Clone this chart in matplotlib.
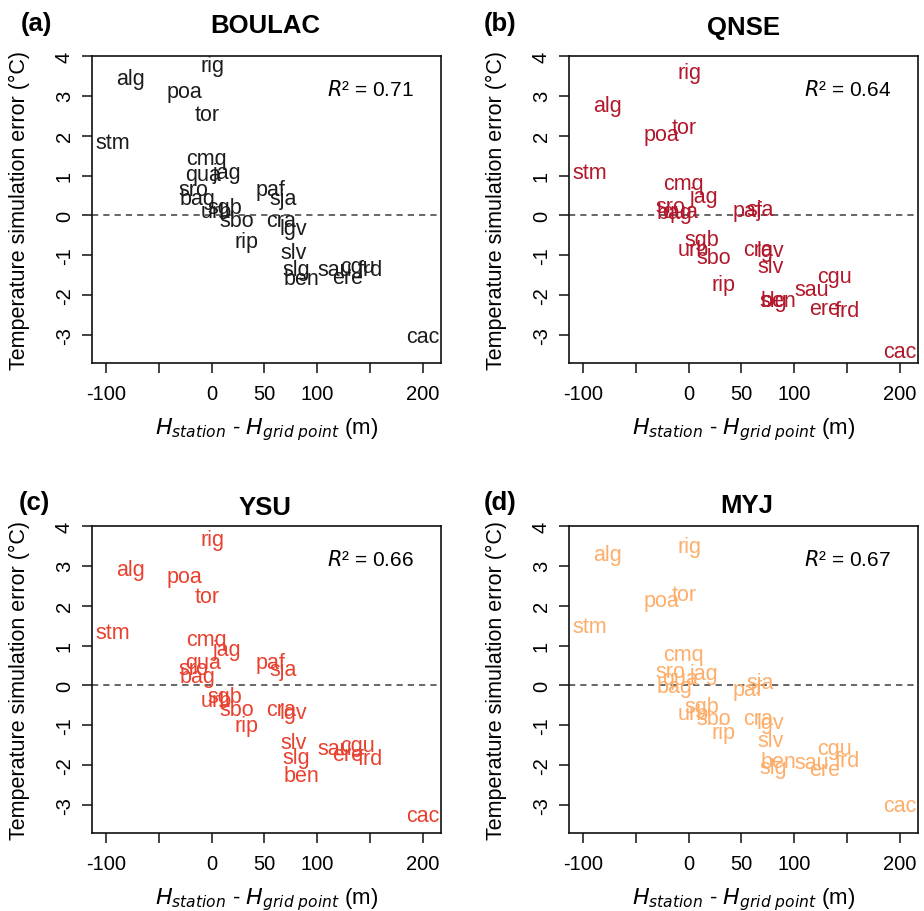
import matplotlib
matplotlib.use("Agg")
import matplotlib.pyplot as plt

plt.rcParams['font.family'] = ['Liberation Sans', 'DejaVu Sans']
plt.rcParams['mathtext.fontset'] = 'custom'
plt.rcParams['mathtext.rm'] = 'Liberation Sans'
plt.rcParams['mathtext.it'] = 'DejaVu Sans:italic'
plt.rcParams['mathtext.bf'] = 'Liberation Sans:bold'

# ---------------- data ----------------
stations = ["alg", "rig", "poa", "tor", "stm", "cmq", "qua", "jag", "sro", "bag",
            "sgb", "urb", "sbo", "paf", "sja", "cra", "lgv", "rip", "slv", "slg",
            "ben", "sau", "cgu", "ere", "frd", "cac"]
dh = [-77, 1, -26, -4, -93, -5, -8, 15, -17.5, -13.5,
      12.5, 4.5, 23.5, 55.5, 68, 66, 77, 33, 78, 80,
      85, 117, 138, 129, 150, 200]

err_boulac = [3.43, 3.75, 3.10, 2.54, 1.84, 1.42, 1.04, 1.07, 0.66, 0.43,
              0.21, 0.09, -0.13, 0.66, 0.43, -0.13, -0.33, -0.66, -0.93, -1.35,
              -1.59, -1.35, -1.27, -1.56, -1.35, -3.03]
err_qnse = [2.76, 3.59, 2.04, 2.21, 1.08, 0.79, 0.09, 0.47, 0.22, 0.07,
            -0.61, -0.85, -1.06, 0.12, 0.16, -0.85, -0.87, -1.73, -1.27, -2.14,
            -2.14, -1.85, -1.52, -2.34, -2.39, -3.40]
err_ysu = [2.91, 3.66, 2.74, 2.24, 1.34, 1.16, 0.58, 0.91, 0.43, 0.22,
           -0.28, -0.38, -0.59, 0.58, 0.41, -0.59, -0.68, -1.01, -1.42, -1.81,
           -2.26, -1.59, -1.51, -1.74, -1.84, -3.26]
err_myj = [3.28, 3.49, 2.12, 2.28, 1.49, 0.78, 0.18, 0.31, 0.34, -0.03,
           -0.52, -0.70, -0.84, -0.09, 0.07, -0.84, -0.93, -1.17, -1.38, -2.05,
           -1.90, -1.93, -1.59, -2.11, -1.88, -3.01]

schemes = ["BOULAC", "QNSE", "YSU", "MYJ"]
panel_tags = ["(a)", "(b)", "(c)", "(d)"]
r2_values = ["0.71", "0.64", "0.66", "0.67"]
colors = ["#1c1c1c", "#B2182B", "#E8412F", "#FDAE6B"]
errors = [err_boulac, err_qnse, err_ysu, err_myj]

xticks = [-100, -50, 0, 50, 100, 150, 200]
xticklabels = ["-100", "", "0", "50", "100", "", "200"]
yticks = [-3, -2, -1, 0, 1, 2, 3, 4]

# ---------------- layout (pixels) ----------------
W, H = 924, 912
fig = plt.figure(figsize=(W / 100, H / 100), dpi=100)

boxes = [(92, 57, 441, 364), (569, 57, 918, 364),
         (92, 527, 441, 834), (569, 527, 918, 834)]
tag_pos = [(21, 30.5), (484, 30.5), (19, 510), (484, 510)]
title_pos = [(265, 33), (744, 35.5), (265, 515), (747, 513)]

for i in range(4):
    l, t, r, b = boxes[i]
    ax = fig.add_axes([l / W, 1 - b / H, (r - l) / W, (b - t) / H])
    ax.set_xlim(-113, 217)
    ax.set_ylim(-3.7, 4.0)
    for s in ax.spines.values():
        s.set_linewidth(1.2)
        s.set_color("#111111")
    ax.axhline(0, color="#666666", lw=1.4, ls=(0, (3.2, 2.6)), zorder=1)
    for name, xv, yv in zip(stations, dh, errors[i]):
        ax.text(xv, yv, name, color=colors[i], fontsize=15.5,
                ha="center", va="center", zorder=3)
    ax.text(150, 3.17, r"$\mathit{R}$² = " + r2_values[i], fontsize=15,
            ha="center", va="center", color="black")
    ax.set_xticks(xticks)
    ax.set_xticklabels(xticklabels)
    ax.set_yticks(yticks)
    ax.set_yticklabels([str(v) for v in yticks], rotation=90, va="center")
    ax.tick_params(axis="both", labelsize=14.5, length=7, width=1.1,
                   color="#111111")
    ax.tick_params(axis="x", pad=8)
    ax.tick_params(axis="y", pad=6)
    ax.set_xlabel(r"$\mathit{H}_{\mathit{station}}$ - $\mathit{H}_{\mathit{grid\ point}}$ (m)",
                  fontsize=16, labelpad=9)
    ax.set_ylabel("Temperature simulation error (°C)", fontsize=15.5)
    ax.yaxis.set_label_coords(-0.178, 0.5)

    tx, ty = tag_pos[i]
    fig.text(tx / W, 1 - ty / H, panel_tags[i], fontsize=18.5,
             fontweight="bold", ha="left", va="baseline")
    cx, cy = title_pos[i]
    fig.text(cx / W, 1 - cy / H, schemes[i], fontsize=18.5,
             fontweight="bold", ha="center", va="baseline")

fig.savefig("out.png", dpi=100, facecolor="white")
